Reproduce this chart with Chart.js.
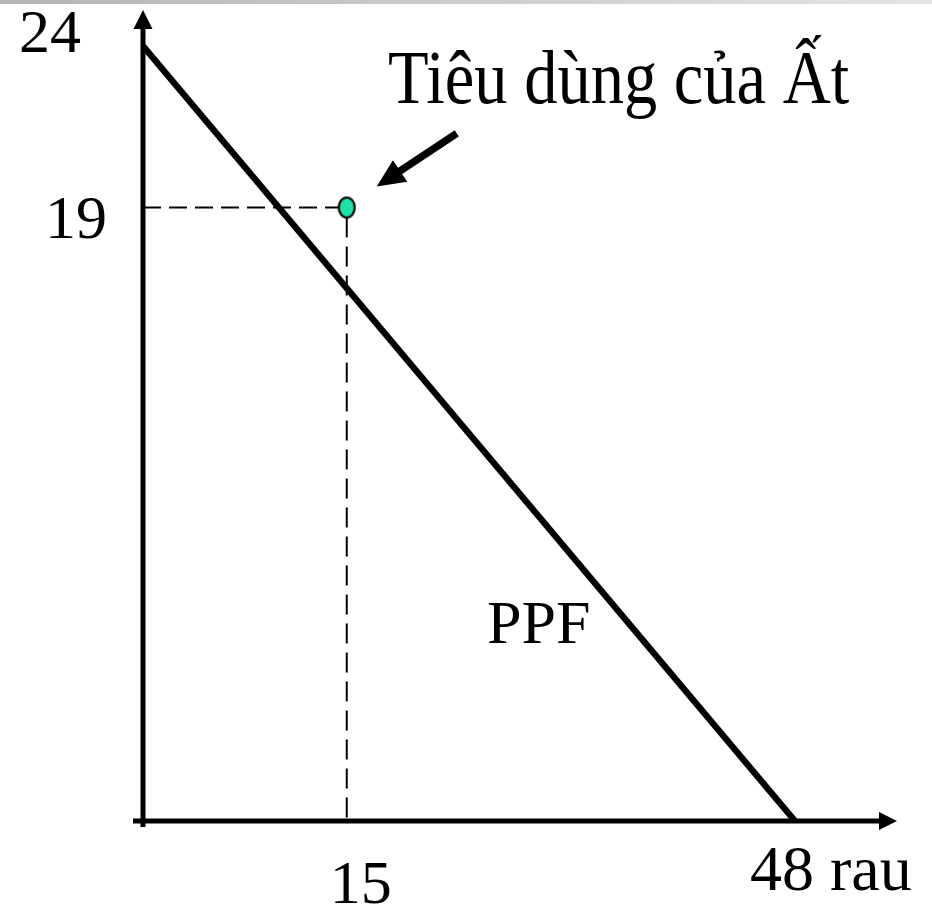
<!DOCTYPE html>
<html>
<head>
<meta charset="utf-8">
<script src="https://cdn.jsdelivr.net/npm/chart.js@4.4.1/dist/chart.umd.min.js"></script>
<style>
  html, body { margin: 0; padding: 0; background: #ffffff; }
  canvas { display: block; }
</style>
</head>
<body>
<canvas id="c" width="932" height="907"></canvas>
<script>
// ---- data ----
const ppfX = [0, 48];
const ppfY = [24, 0];
const pointX = [15];
const pointY = [19];
const yTickValues = [24, 19];
const yTickLabels = ['24', '19'];
const xTickValues = [15, 48];
const xTickLabels = ['15', '48 rau'];
const annotationText = 'Tiêu dùng của Ất';
const curveLabel = 'PPF';

const FONT = '"Liberation Serif", "DejaVu Serif", "Times New Roman", serif';

// ellipse point style
function makeDot() {
  const cv = document.createElement('canvas');
  cv.width = 22; cv.height = 26;
  const g = cv.getContext('2d');
  g.beginPath();
  g.ellipse(11, 13, 8, 10, 0, 0, Math.PI * 2);
  g.fillStyle = '#1FE0A8';
  g.fill();
  g.lineWidth = 2.2;
  g.strokeStyle = '#000';
  g.stroke();
  return cv;
}

const ppfData = ppfX.map((x, i) => ({ x: x, y: ppfY[i] }));
const dotData = pointX.map((x, i) => ({ x: x, y: pointY[i] }));
const hDash = [{ x: 0, y: pointY[0] }, { x: pointX[0], y: pointY[0] }];
const vDash = [{ x: pointX[0], y: pointY[0] }, { x: pointX[0], y: 0 }];

function arrowHead(ctx, tipX, tipY, ang, len, half) {
  ctx.beginPath();
  ctx.moveTo(tipX, tipY);
  ctx.lineTo(tipX - len * Math.cos(ang) + half * Math.sin(ang), tipY - len * Math.sin(ang) - half * Math.cos(ang));
  ctx.lineTo(tipX - len * Math.cos(ang) - half * Math.sin(ang), tipY - len * Math.sin(ang) + half * Math.cos(ang));
  ctx.closePath();
  ctx.fill();
}

const drawPlugin = {
  id: 'ppfDecor',
  beforeDraw(chart) {
    const ctx = chart.ctx;
    ctx.save();
    const gr = ctx.createLinearGradient(0, 0, chart.width, 0);
    gr.addColorStop(0, '#b4b4b4');
    gr.addColorStop(1, '#e4e4e4');
    ctx.fillStyle = gr;
    ctx.fillRect(0, 0, chart.width, 4);
    ctx.restore();
  },
  beforeDatasetsDraw(chart) {
    const ctx = chart.ctx;
    const xs = chart.scales.x, ys = chart.scales.y;
    const x0 = xs.getPixelForValue(0), y0 = ys.getPixelForValue(0);
    ctx.save();
    ctx.strokeStyle = '#000';
    ctx.fillStyle = '#000';
    ctx.lineWidth = 5;
    // y axis
    ctx.beginPath();
    ctx.moveTo(x0, y0 + 6);
    ctx.lineTo(x0, 26);
    ctx.stroke();
    arrowHead(ctx, x0, 10, -Math.PI / 2, 19, 9.5);
    // x axis
    ctx.beginPath();
    ctx.moveTo(x0 - 10, y0);
    ctx.lineTo(882, y0);
    ctx.stroke();
    arrowHead(ctx, 897, y0, 0, 18, 9);
    ctx.restore();
  },
  afterDraw(chart) {
    const ctx = chart.ctx;
    const xs = chart.scales.x, ys = chart.scales.y;
    const x0 = xs.getPixelForValue(0), y0 = ys.getPixelForValue(0);
    ctx.save();
    ctx.fillStyle = '#000';
    ctx.font = '62px ' + FONT;
    // y tick labels
    const yDy = [6, 31];
    const yDx = [-62, -36];
    ctx.textAlign = 'right';
    ctx.textBaseline = 'alphabetic';
    yTickValues.forEach((v, i) => {
      ctx.fillText(yTickLabels[i], x0 + yDx[i], ys.getPixelForValue(v) + yDy[i]);
    });
    // x tick labels
    xTickValues.forEach((v, i) => {
      const px = xs.getPixelForValue(v);
      if (i === 0) {
        ctx.textAlign = 'center';
        ctx.fillText(xTickLabels[i], px + 14, y0 + 82);
      } else {
        ctx.textAlign = 'left';
        ctx.font = '64px ' + FONT;
        ctx.fillText(xTickLabels[i], px - 45, y0 + 69);
      }
    });
    // PPF label
    ctx.font = '62px ' + FONT;
    ctx.textAlign = 'left';
    ctx.fillText(curveLabel, 487, 643);
    // annotation title (condensed)
    ctx.save();
    ctx.translate(388, 103);
    ctx.scale(0.875, 1);
    ctx.font = '76px ' + FONT;
    ctx.fillText(annotationText, 0, 0);
    ctx.restore();
    // pointer arrow to the consumption point
    const px = xs.getPixelForValue(pointX[0]);
    const py = ys.getPixelForValue(pointY[0]);
    const tipX = px + 30, tipY = py - 21;
    const tailX = px + 110, tailY = py - 74;
    const ang = Math.atan2(tipY - tailY, tipX - tailX);
    ctx.strokeStyle = '#000';
    ctx.lineWidth = 7.5;
    ctx.beginPath();
    ctx.moveTo(tailX, tailY);
    ctx.lineTo(tipX - 20 * Math.cos(ang), tipY - 20 * Math.sin(ang));
    ctx.stroke();
    arrowHead(ctx, tipX, tipY, ang, 28, 13);
    ctx.restore();
  }
};

new Chart(document.getElementById('c'), {
  type: 'scatter',
  data: {
    datasets: [
      {
        label: 'Tiêu dùng của Ất',
        data: dotData,
        pointStyle: makeDot(),
        pointRadius: 11,
        showLine: false,
        clip: false
      },
      {
        label: 'PPF',
        data: ppfData,
        showLine: true,
        borderColor: '#000',
        borderWidth: 6.5,
        borderCapStyle: 'butt',
        pointRadius: 0,
        fill: false,
        clip: false
      },
      {
        label: 'h',
        data: hDash,
        showLine: true,
        borderColor: '#000',
        borderWidth: 2,
        borderDash: [18, 8],
        pointRadius: 0,
        clip: false
      },
      {
        label: 'v',
        data: vDash,
        showLine: true,
        borderColor: '#000',
        borderWidth: 2,
        borderDash: [20, 9],
        borderDashOffset: -10,
        pointRadius: 0,
        clip: false
      }
    ]
  },
  options: {
    responsive: false,
    animation: false,
    events: [],
    layout: { padding: { left: 143, right: 137, top: 46, bottom: 86 } },
    plugins: { legend: { display: false }, tooltip: { enabled: false }, title: { display: false } },
    scales: {
      x: { type: 'linear', min: 0, max: 48, display: false },
      y: { type: 'linear', min: 0, max: 24, display: false }
    }
  },
  plugins: [drawPlugin]
});
</script>
</body>
</html>
